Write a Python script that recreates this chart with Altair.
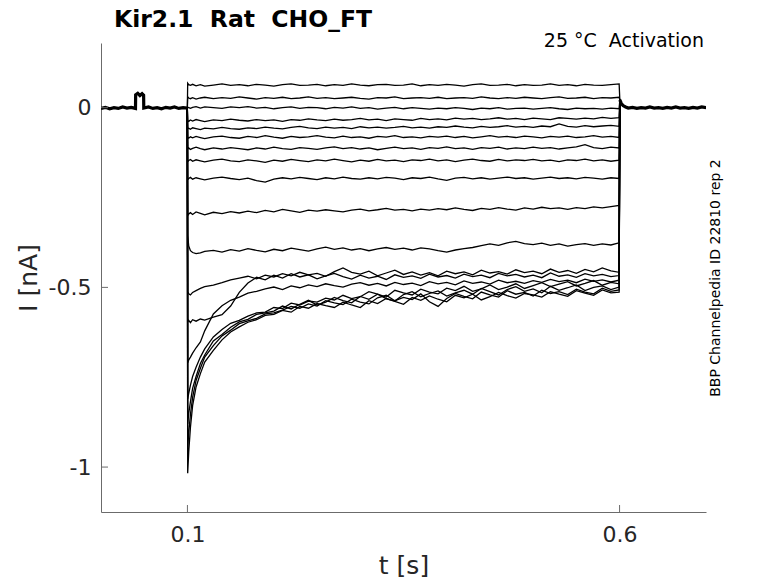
import altair as alt
import pandas as pd

# ---- time grids (s) ----
HOLD_T = [0.0, 0.005, 0.01, 0.015, 0.02, 0.025, 0.03, 0.035, 0.0399, 0.0401, 0.0425,
          0.045, 0.0475, 0.0493, 0.0495, 0.055, 0.06, 0.065, 0.07, 0.075, 0.08, 0.085,
          0.09, 0.095, 0.0999]
HOLD_I = [-0.002, 0.001, -0.003, 0.000, -0.002, 0.002, -0.001, 0.001, -0.002, 0.036, 0.040,
          0.034, 0.039, 0.035, -0.001, 0.002, -0.002, 0.000, -0.003, 0.001, -0.001, 0.002,
          -0.002, 0.000, -0.001]

STEP_T = [0.1003, 0.1015, 0.1035, 0.106, 0.11, 0.115, 0.12, 0.13, 0.14, 0.15, 0.16,
          0.17, 0.18, 0.19, 0.20, 0.21, 0.22, 0.23, 0.24, 0.25, 0.26, 0.27,
          0.28, 0.29, 0.30, 0.31, 0.32, 0.33, 0.34, 0.35, 0.36, 0.37, 0.38,
          0.39, 0.40, 0.41, 0.42, 0.43, 0.44, 0.45, 0.46, 0.47, 0.48, 0.49,
          0.50, 0.51, 0.52, 0.53, 0.54, 0.55, 0.56, 0.57, 0.58, 0.59, 0.5995]

POST_T = [0.6003, 0.602, 0.604, 0.607, 0.61, 0.615, 0.62, 0.625, 0.63, 0.635, 0.64, 0.645,
          0.65, 0.655, 0.66, 0.665, 0.67, 0.675, 0.68, 0.685, 0.69, 0.695, 0.7]
POST_I = [0.022, 0.012, 0.006, 0.002, -0.001, 0.001, -0.002, 0.000, -0.001, 0.002, -0.001, 0.000,
          -0.002, 0.001, -0.001, 0.002, -0.001, 0.000, -0.002, 0.001, -0.001, 0.002, 0.000]

# ---- currents during the step (nA), one list per sweep ----
T1 = [0.068, 0.064, 0.062, 0.065, 0.061, 0.064, 0.060, 0.063, 0.066, 0.062, 0.064,
      0.061, 0.065, 0.063, 0.060, 0.064, 0.066, 0.062, 0.063, 0.065, 0.061, 0.064,
      0.062, 0.066, 0.063, 0.061, 0.064, 0.065, 0.062, 0.063, 0.066, 0.061, 0.064,
      0.062, 0.065, 0.063, 0.060, 0.064, 0.066, 0.062, 0.063, 0.065, 0.061, 0.064,
      0.062, 0.063, 0.066, 0.062, 0.064, 0.061, 0.065, 0.063, 0.062, 0.064, 0.066]
T2 = [0.030, 0.027, 0.025, 0.028, 0.024, 0.027, 0.029, 0.025, 0.028, 0.026, 0.030,
      0.027, 0.024, 0.028, 0.026, 0.029, 0.025, 0.027, 0.030, 0.026, 0.028, 0.025,
      0.027, 0.029, 0.026, 0.024, 0.028, 0.027, 0.030, 0.025, 0.027, 0.028, 0.026,
      0.029, 0.025, 0.027, 0.028, 0.026, 0.030, 0.027, 0.025, 0.028, 0.026, 0.029,
      0.027, 0.025, 0.028, 0.030, 0.026, 0.027, 0.029, 0.025, 0.028, 0.027, 0.029]
T3 = [0.002, 0.000, -0.002, 0.001, 0.003, -0.001, 0.002, 0.000, -0.002, 0.002, 0.000,
      0.003, -0.001, 0.001, -0.003, 0.000, 0.002, -0.002, 0.001, 0.000, -0.003, 0.001,
      -0.001, 0.002, -0.002, 0.000, -0.004, -0.001, 0.001, -0.003, 0.000, -0.002, -0.004,
      -0.001, -0.003, 0.000, -0.002, -0.005, -0.001, -0.003, 0.000, -0.004, -0.002, -0.001,
      -0.004, -0.002, 0.000, -0.003, -0.005, -0.001, -0.003, -0.002, -0.004, -0.001, -0.003]
T4 = [-0.036, -0.038, -0.034, -0.037, -0.033, -0.036, -0.039, -0.034, -0.036, -0.032, -0.035,
      -0.037, -0.033, -0.036, -0.034, -0.038, -0.033, -0.035, -0.031, -0.034, -0.036, -0.032,
      -0.035, -0.033, -0.030, -0.034, -0.032, -0.036, -0.031, -0.033, -0.035, -0.030, -0.033,
      -0.031, -0.034, -0.029, -0.032, -0.030, -0.033, -0.031, -0.028, -0.032, -0.030, -0.033,
      -0.029, -0.031, -0.033, -0.028, -0.030, -0.032, -0.029, -0.031, -0.027, -0.030, -0.028]
T5 = [-0.059, -0.057, -0.060, -0.056, -0.058, -0.061, -0.057, -0.059, -0.055, -0.058, -0.060,
      -0.056, -0.058, -0.054, -0.057, -0.059, -0.055, -0.052, -0.056, -0.058, -0.054, -0.057,
      -0.055, -0.058, -0.053, -0.056, -0.054, -0.057, -0.055, -0.052, -0.056, -0.054, -0.057,
      -0.053, -0.055, -0.051, -0.054, -0.056, -0.052, -0.055, -0.053, -0.050, -0.054, -0.052,
      -0.055, -0.051, -0.053, -0.045, -0.052, -0.054, -0.050, -0.053, -0.051, -0.049, -0.052]
T6 = [-0.082, -0.085, -0.081, -0.084, -0.080, -0.083, -0.086, -0.081, -0.079, -0.083, -0.085,
      -0.080, -0.083, -0.078, -0.082, -0.085, -0.080, -0.083, -0.081, -0.078, -0.082, -0.084,
      -0.079, -0.083, -0.081, -0.085, -0.080, -0.082, -0.078, -0.083, -0.081, -0.084, -0.080,
      -0.082, -0.079, -0.083, -0.080, -0.084, -0.081, -0.078, -0.082, -0.080, -0.083, -0.079,
      -0.081, -0.084, -0.080, -0.082, -0.079, -0.083, -0.081, -0.078, -0.082, -0.080, -0.083]
T7 = [-0.115, -0.112, -0.116, -0.113, -0.110, -0.114, -0.117, -0.112, -0.115, -0.111, -0.114,
      -0.117, -0.112, -0.115, -0.110, -0.114, -0.116, -0.111, -0.113, -0.116, -0.112, -0.109,
      -0.114, -0.111, -0.115, -0.112, -0.117, -0.113, -0.110, -0.114, -0.112, -0.116, -0.111,
      -0.113, -0.109, -0.114, -0.112, -0.116, -0.111, -0.113, -0.110, -0.115, -0.112, -0.114,
      -0.110, -0.113, -0.111, -0.115, -0.112, -0.109, -0.103, -0.111, -0.114, -0.110, -0.112]
T8 = [-0.150, -0.147, -0.144, -0.149, -0.145, -0.148, -0.151, -0.146, -0.143, -0.148, -0.150,
      -0.145, -0.148, -0.152, -0.146, -0.149, -0.144, -0.147, -0.150, -0.145, -0.148, -0.143,
      -0.147, -0.151, -0.146, -0.149, -0.144, -0.148, -0.146, -0.150, -0.145, -0.147, -0.143,
      -0.148, -0.145, -0.150, -0.146, -0.143, -0.147, -0.149, -0.144, -0.148, -0.145, -0.147,
      -0.144, -0.148, -0.146, -0.150, -0.145, -0.147, -0.143, -0.148, -0.145, -0.149, -0.146]
T9 = [-0.200, -0.197, -0.194, -0.199, -0.195, -0.198, -0.201, -0.196, -0.193, -0.197, -0.200,
      -0.196, -0.203, -0.207, -0.199, -0.195, -0.198, -0.194, -0.197, -0.200, -0.195, -0.198,
      -0.193, -0.197, -0.199, -0.195, -0.198, -0.194, -0.196, -0.200, -0.195, -0.197, -0.193,
      -0.198, -0.202, -0.196, -0.194, -0.198, -0.195, -0.199, -0.196, -0.193, -0.197, -0.195,
      -0.199, -0.196, -0.193, -0.197, -0.195, -0.198, -0.194, -0.196, -0.199, -0.195, -0.197]
T10 = [-0.300, -0.296, -0.292, -0.297, -0.290, -0.294, -0.298, -0.291, -0.295, -0.289, -0.293,
       -0.288, -0.292, -0.286, -0.290, -0.283, -0.287, -0.291, -0.285, -0.288, -0.284, -0.287,
       -0.290, -0.285, -0.282, -0.287, -0.284, -0.280, -0.285, -0.283, -0.287, -0.282, -0.285,
       -0.281, -0.284, -0.279, -0.283, -0.286, -0.280, -0.283, -0.278, -0.282, -0.285, -0.279,
       -0.282, -0.277, -0.281, -0.279, -0.283, -0.278, -0.281, -0.276, -0.279, -0.275, -0.272]
T11 = [-0.355, -0.385, -0.398, -0.403, -0.406, -0.404, -0.400, -0.397, -0.402, -0.395, -0.399,
       -0.392, -0.397, -0.401, -0.394, -0.398, -0.391, -0.395, -0.399, -0.393, -0.388, -0.394,
       -0.390, -0.396, -0.392, -0.398, -0.393, -0.389, -0.394, -0.391, -0.396, -0.390, -0.393,
       -0.398, -0.402, -0.396, -0.392, -0.389, -0.384, -0.379, -0.383, -0.376, -0.372, -0.378,
       -0.381, -0.377, -0.383, -0.379, -0.385, -0.381, -0.378, -0.383, -0.379, -0.382, -0.376]
T12 = [-0.512, -0.518, -0.521, -0.514, -0.509, -0.503, -0.498, -0.494, -0.487, -0.479, -0.474,
       -0.469, -0.476, -0.466, -0.471, -0.462, -0.468, -0.458, -0.465, -0.461, -0.469, -0.456,
       -0.446, -0.458, -0.463, -0.455, -0.468, -0.460, -0.452, -0.464, -0.457, -0.466, -0.459,
       -0.468, -0.455, -0.462, -0.457, -0.465, -0.452, -0.460, -0.456, -0.463, -0.451, -0.459,
       -0.455, -0.462, -0.449, -0.458, -0.453, -0.461, -0.450, -0.457, -0.446, -0.454, -0.458]
T13 = [-0.596, -0.592, -0.598, -0.590, -0.594, -0.588, -0.591, -0.583, -0.576, -0.552, -0.514,
       -0.488, -0.472, -0.479, -0.466, -0.474, -0.462, -0.471, -0.465, -0.476, -0.468, -0.461,
       -0.470, -0.477, -0.466, -0.474, -0.469, -0.478, -0.465, -0.472, -0.468, -0.475, -0.463,
       -0.471, -0.467, -0.474, -0.463, -0.470, -0.466, -0.473, -0.461, -0.468, -0.464, -0.471,
       -0.466, -0.473, -0.460, -0.469, -0.465, -0.472, -0.462, -0.468, -0.464, -0.470, -0.467]
T14 = [-0.710, -0.702, -0.694, -0.683, -0.668, -0.652, -0.621, -0.574, -0.551, -0.536, -0.527,
       -0.516, -0.511, -0.504, -0.499, -0.506, -0.496, -0.501, -0.493, -0.498, -0.490, -0.495,
       -0.499, -0.491, -0.487, -0.494, -0.489, -0.496, -0.486, -0.492, -0.488, -0.495, -0.484,
       -0.490, -0.486, -0.493, -0.482, -0.489, -0.485, -0.491, -0.480, -0.487, -0.483, -0.489,
       -0.481, -0.486, -0.478, -0.484, -0.480, -0.487, -0.477, -0.483, -0.479, -0.485, -0.480]
T15 = [-0.810, -0.795, -0.772, -0.748, -0.722, -0.694, -0.671, -0.638, -0.617, -0.600, -0.592,
       -0.580, -0.571, -0.569, -0.556, -0.559, -0.544, -0.549, -0.538, -0.541, -0.530, -0.535,
       -0.522, -0.531, -0.526, -0.512, -0.519, -0.527, -0.508, -0.515, -0.521, -0.505, -0.513,
       -0.518, -0.502, -0.509, -0.497, -0.511, -0.504, -0.493, -0.506, -0.499, -0.490, -0.503,
       -0.495, -0.487, -0.498, -0.491, -0.484, -0.496, -0.489, -0.481, -0.494, -0.486, -0.490]
T16 = [-0.880, -0.851, -0.818, -0.781, -0.748, -0.712, -0.688, -0.649, -0.631, -0.611, -0.596,
       -0.589, -0.575, -0.571, -0.566, -0.552, -0.560, -0.547, -0.536, -0.549, -0.541, -0.528,
       -0.537, -0.543, -0.525, -0.533, -0.519, -0.531, -0.538, -0.520, -0.512, -0.526, -0.517,
       -0.510, -0.524, -0.515, -0.508, -0.519, -0.503, -0.512, -0.521, -0.506, -0.498, -0.511,
       -0.504, -0.515, -0.497, -0.508, -0.501, -0.493, -0.509, -0.500, -0.496, -0.506, -0.499]
T17 = [-0.950, -0.905, -0.853, -0.806, -0.759, -0.725, -0.694, -0.662, -0.635, -0.619, -0.601,
       -0.593, -0.586, -0.574, -0.571, -0.563, -0.553, -0.558, -0.546, -0.552, -0.537, -0.543,
       -0.548, -0.533, -0.541, -0.546, -0.529, -0.522, -0.537, -0.528, -0.534, -0.518, -0.540,
       -0.553, -0.531, -0.517, -0.525, -0.532, -0.513, -0.521, -0.527, -0.509, -0.519, -0.514,
       -0.524, -0.508, -0.517, -0.512, -0.520, -0.505, -0.513, -0.518, -0.502, -0.511, -0.507]
T18 = [-1.017, -0.958, -0.889, -0.829, -0.777, -0.740, -0.708, -0.675, -0.646, -0.624, -0.610,
       -0.597, -0.590, -0.578, -0.575, -0.564, -0.569, -0.553, -0.558, -0.545, -0.551, -0.556,
       -0.541, -0.549, -0.556, -0.537, -0.545, -0.531, -0.539, -0.547, -0.528, -0.536, -0.524,
       -0.533, -0.540, -0.522, -0.529, -0.519, -0.535, -0.526, -0.514, -0.523, -0.530, -0.517,
       -0.521, -0.527, -0.512, -0.519, -0.525, -0.509, -0.516, -0.522, -0.507, -0.515, -0.513]

SWEEPS = [T1, T2, T3, T4, T5, T6, T7, T8, T9, T10, T11, T12, T13, T14, T15, T16, T17, T18]

X_TICKS = [0.1, 0.6]
Y_TICKS = [0, -0.5, -1]
NBSP = "\u00a0"
TITLE = "Kir2.1" + NBSP + " Rat" + NBSP + " CHO_FT"
SUBTITLE = "25 °C" + NBSP + " Activation"
SIDE_NOTE = "BBP Channelpedia ID 22810 rep 2"

# ---- tables ----
rows = []
for k, vals in enumerate(SWEEPS):
    for t, v in zip(HOLD_T, HOLD_I):
        rows.append({"sweep": k, "t": t, "i": v})
    for t, v in zip(STEP_T, vals):
        rows.append({"sweep": k, "t": t, "i": v})
    for t, v in zip(POST_T, POST_I):
        rows.append({"sweep": k, "t": t, "i": v})
df = pd.DataFrame(rows)

base_rows = [{"seg": "pre", "t": t, "i": v} for t, v in zip(HOLD_T, HOLD_I)]
base_rows += [{"seg": "post", "t": t, "i": v} for t, v in zip(POST_T, POST_I)]
dbase = pd.DataFrame(base_rows)

W, H = 605, 469
AXC = "#6b6b6b"
TXT = "#262626"
FONT = "DejaVu Sans"
MINUS_FIX = "replace(datum.label, '\u2212', '-')"

xs = alt.Scale(domain=[0.0, 0.7], nice=False, zero=False)
ys = alt.Scale(domain=[-1.125, 0.18], nice=False, zero=False)

x_axis = alt.Axis(values=X_TICKS, format=".1f", title="t [s]", grid=False, ticks=False,
                  labelFontSize=22, titleFontSize=25, labelPadding=12, titlePadding=8,
                  domainColor=AXC, labelColor=TXT, titleColor=TXT,
                  labelFont=FONT, titleFont=FONT, titleFontWeight="normal")
y_axis = alt.Axis(values=Y_TICKS, format="~g", labelExpr=MINUS_FIX, title="I [nA]",
                  grid=False, ticks=False,
                  labelFontSize=22, titleFontSize=25, labelPadding=10, titlePadding=7,
                  domainColor=AXC, labelColor=TXT, titleColor=TXT,
                  labelFont=FONT, titleFont=FONT, titleFontWeight="normal")

lines = alt.Chart(df).mark_line(color="black", strokeWidth=1.3, clip=True).encode(
    x=alt.X("t:Q", scale=xs, axis=x_axis),
    y=alt.Y("i:Q", scale=ys, axis=y_axis),
    detail="sweep:N",
)

thick = alt.Chart(dbase).mark_line(color="black", strokeWidth=3.2, clip=True).encode(
    x=alt.X("t:Q", scale=xs),
    y=alt.Y("i:Q", scale=ys),
    detail="seg:N",
)

xt = alt.Chart(pd.DataFrame({"t": X_TICKS})).mark_rule(color=AXC, strokeWidth=1).encode(
    x=alt.X("t:Q", scale=xs), y=alt.value(H), y2=alt.value(H - 7)
)
yt = alt.Chart(pd.DataFrame({"i": Y_TICKS})).mark_rule(color=AXC, strokeWidth=1).encode(
    y=alt.Y("i:Q", scale=ys), x=alt.value(0), x2=alt.value(7)
)

title_t = alt.Chart(pd.DataFrame({"s": [TITLE]})).mark_text(
    font=FONT, fontSize=23.5, fontWeight="bold", color="black", align="center", baseline="alphabetic"
).encode(text="s:N", x=alt.value(142), y=alt.value(-16))

sub_t = alt.Chart(pd.DataFrame({"s": [SUBTITLE]})).mark_text(
    font=FONT, fontSize=19, color="black", align="right", baseline="alphabetic"
).encode(text="s:N", x=alt.value(603), y=alt.value(4))

side_t = alt.Chart(pd.DataFrame({"s": [SIDE_NOTE]})).mark_text(
    font=FONT, fontSize=14, color="black", align="center", baseline="middle", angle=270
).encode(text="s:N", x=alt.value(615), y=alt.value(235))

chart = alt.layer(lines, thick, xt, yt, title_t, sub_t, side_t).properties(
    width=W, height=H,
    background="white",
    autosize=alt.AutoSizeParams(type="none"),
    padding={"left": 93, "top": 35, "right": 55, "bottom": 67},
).configure_view(stroke=None)

chart.save("out.html", embed_options={"renderer": "svg", "actions": False})
